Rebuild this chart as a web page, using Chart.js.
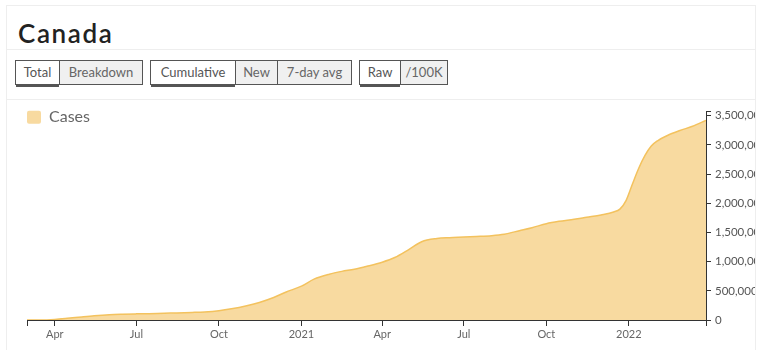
<!DOCTYPE html>
<html>
<head>
<meta charset="utf-8">
<script src="https://cdn.jsdelivr.net/npm/chart.js@4"></script>
<style>
  html, body { margin: 0; padding: 0; background: #fff; width: 764px; height: 350px; overflow: hidden; }
  body { font-family: "Lato", sans-serif; color: #333; }
  .card { position: absolute; left: 6px; top: 5px; width: 748px; height: 360px; border: 1px solid #eee; }
  .title { position: absolute; left: 11px; top: 11px; margin: 0; font-size: 26px; font-weight: 600; color: #222; letter-spacing: 1.6px; }
  .rule { position: absolute; left: 0; right: 0; height: 0; border-top: 1px solid #eee; }
  .groups { position: absolute; left: 8px; top: 54px; height: 26px; }
  .grp { position: absolute; top: 0; height: 23px; display: flex; border: 1px solid #555; }
  .btn { height: 23px; line-height: 23px; text-align: center; font-size: 13px; color: #666; background: #f0f0f0; }
  .btn + .btn { border-left: 1px solid #555; }
  .btn.on { background: #fff; color: #555; box-shadow: 0 3px 0 #555; }
  .chartbox { position: absolute; left: 0; top: 94px; width: 748px; height: 250px; }
</style>
</head>
<body>
<div class="card">
  <h2 class="title">Canada</h2>
  <div class="rule" style="top:43px"></div>
  <div class="groups">
    <div class="grp" style="left:0">
      <div class="btn on" style="width:43px">Total</div>
      <div class="btn" style="width:82px">Breakdown</div>
    </div>
    <div class="grp" style="left:135px">
      <div class="btn on" style="width:84px">Cumulative</div>
      <div class="btn" style="width:41px">New</div>
      <div class="btn" style="width:73px">7-day avg</div>
    </div>
    <div class="grp" style="left:344px">
      <div class="btn on" style="width:40px">Raw</div>
      <div class="btn" style="width:46px">/100K</div>
    </div>
  </div>
  <div class="rule" style="top:93px"></div>
  <div class="chartbox"><canvas id="casesChart"></canvas></div>
</div>
<script>
// cumulative case counts
const dates = [
  '2020-03-01','2020-03-15','2020-04-01','2020-04-15','2020-05-01','2020-05-15','2020-06-01','2020-06-15',
  '2020-07-01','2020-07-15','2020-08-01','2020-08-15','2020-09-01','2020-09-15','2020-10-01','2020-10-15',
  '2020-11-01','2020-11-15','2020-12-01','2020-12-15','2021-01-01','2021-01-15','2021-02-01','2021-02-15',
  '2021-03-01','2021-03-15','2021-04-01','2021-04-15','2021-05-01','2021-05-15','2021-06-01','2021-06-15',
  '2021-07-01','2021-07-15','2021-08-01','2021-08-15','2021-09-01','2021-09-15','2021-10-01','2021-10-15',
  '2021-11-01','2021-11-15','2021-12-01','2021-12-15','2021-12-22','2021-12-29','2022-01-05','2022-01-12',
  '2022-01-19','2022-01-26','2022-02-02','2022-02-13','2022-02-27','2022-03-13','2022-03-28'
];
const cases = [
  30, 340, 9600, 28000, 53000, 73000, 91000, 99000,
  105000, 109000, 117000, 122000, 130000, 139000, 160000, 192000,
  245000, 300000, 385000, 480000, 580000, 700000, 785000, 833000,
  870000, 920000, 990000, 1070000, 1210000, 1340000, 1395000, 1410000,
  1420000, 1430000, 1445000, 1470000, 1530000, 1580000, 1650000, 1690000,
  1725000, 1760000, 1800000, 1850000, 1900000, 2050000, 2330000, 2600000,
  2820000, 2980000, 3070000, 3160000, 3245000, 3320000, 3420000
];
const xTickDates = ['2020-04-01','2020-07-01','2020-10-01','2021-01-01','2021-04-01','2021-07-01','2021-10-01','2022-01-01'];
const xTickLabels = ['Apr','Jul','Oct','2021','Apr','Jul','Oct','2022'];
const yTicks = [0, 500000, 1000000, 1500000, 2000000, 2500000, 3000000, 3500000];
const xStart = '2020-03-01';
const xEnd = '2022-03-28';
const yMax = 3580000;

function dayOf(s) {
  return Math.round((Date.parse(s) - Date.parse(xStart)) / 86400000);
}

const points = dates.map((d, i) => ({ x: dayOf(d), y: cases[i] }));
const xMaxDay = dayOf(xEnd);

const ctx = document.getElementById('casesChart').getContext('2d');
const chart = new Chart(ctx, {
  type: 'line',
  data: {
    datasets: [{
      label: 'Cases',
      data: points,
      fill: 'origin',
      backgroundColor: '#f8daa0',
      borderColor: '#f3c25e',
      borderWidth: 1.5,
      pointRadius: 0,
      cubicInterpolationMode: 'monotone'
    }]
  },
  options: {
    responsive: true,
    maintainAspectRatio: false,
    animation: false,
    layout: { padding: { left: 20, top: 11, right: 0, bottom: 0 } },
    plugins: {
      legend: {
        position: 'chartArea',
        align: 'start',
        // empty title only used to push the legend row down a bit
        title: { display: true, text: '', font: { size: 1 }, padding: { top: 8, bottom: 0 } },
        labels: {
          boxWidth: 14,
          boxHeight: 13,
          useBorderRadius: true,
          borderRadius: 2,
          padding: 0,
          color: '#333',
          font: { family: 'Lato', size: 16 },
          generateLabels: function (c) {
            return [{ text: 'Cases', fillStyle: '#f8daa0', strokeStyle: '#f8daa0', lineWidth: 0, borderRadius: 2, datasetIndex: 0 }];
          }
        }
      },
      tooltip: { enabled: false }
    },
    scales: {
      x: {
        type: 'linear',
        min: 0,
        max: xMaxDay,
        afterBuildTicks: function (axis) {
          const t = [{ value: 0 }];
          xTickDates.forEach(d => t.push({ value: dayOf(d) }));
          t.push({ value: xMaxDay });
          axis.ticks = t;
        },
        afterFit: function (axis) { axis.height = 30; },
        ticks: {
          autoSkip: false,
          maxRotation: 0,
          padding: 2,
          color: '#666',
          font: { family: 'Lato', size: 11 },
          callback: function (value) {
            const i = xTickDates.findIndex(d => dayOf(d) === value);
            return i >= 0 ? xTickLabels[i] : '';
          }
        },
        grid: { drawOnChartArea: false, drawTicks: true, tickLength: 6, color: '#333' },
        border: { display: true, color: '#333', width: 1 }
      },
      y: {
        position: 'right',
        min: 0,
        max: yMax,
        afterBuildTicks: function (axis) {
          const t = yTicks.map(v => ({ value: v }));
          t.push({ value: yMax });
          axis.ticks = t;
        },
        afterFit: function (axis) { axis.width = 49; },
        ticks: {
          padding: 4,
          color: '#555',
          font: { family: 'Lato', size: 11.5 },
          callback: function (value) {
            return yTicks.includes(value) ? value.toLocaleString('en-US') : '';
          }
        },
        grid: { drawOnChartArea: false, drawTicks: true, tickLength: 5, color: '#333' },
        border: { display: true, color: '#333', width: 1 }
      }
    }
  }
});
</script>
</body>
</html>
